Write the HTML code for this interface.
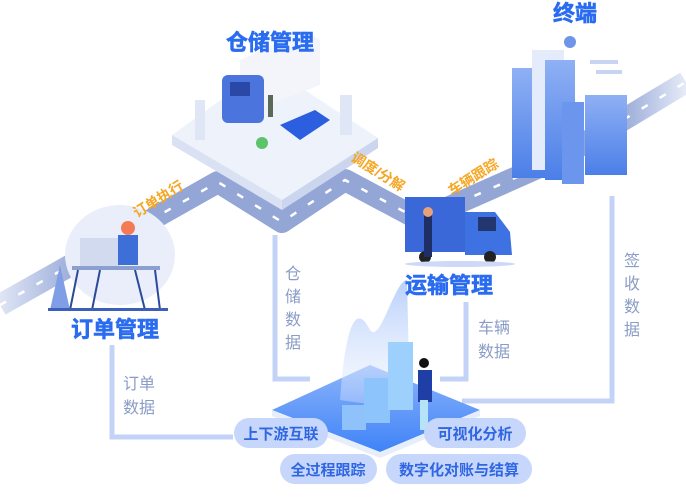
<!DOCTYPE html>
<html><head><meta charset="utf-8"><style>
html,body{margin:0;padding:0;background:#fff;}
svg{display:block;font-family:"Liberation Sans","Noto Sans CJK SC",sans-serif;}
</style></head><body>
<svg width="686" height="503" viewBox="0 0 686 503" xmlns="http://www.w3.org/2000/svg">
<defs>
<linearGradient id="rd" x1="0" x2="1" y1="0" y2="0"><stop offset="0" stop-color="#dfe5f5"/><stop offset="0.12" stop-color="#93a6d6"/><stop offset="0.9" stop-color="#93a6d6"/><stop offset="1" stop-color="#e6ebf8"/></linearGradient>
<linearGradient id="plat" x1="0" x2="0" y1="0" y2="1"><stop offset="0" stop-color="#8db4fb"/><stop offset="1" stop-color="#3f83f7"/></linearGradient>
<linearGradient id="bld" x1="0" x2="0" y1="0" y2="1"><stop offset="0" stop-color="#8fb0f4"/><stop offset="1" stop-color="#4b7fe8"/></linearGradient>
<linearGradient id="wave" x1="0" x2="0" y1="0" y2="1"><stop offset="0" stop-color="#b9d0fb"/><stop offset="1" stop-color="#e8f0fe" stop-opacity="0.3"/></linearGradient>
</defs>

<!-- road -->
<path d="M0 305 L218 182 L282 222 L345 180 L420 220 L560 158 L686 82" fill="none" stroke="url(#rd)" stroke-width="22" stroke-linejoin="round"/>
<path d="M0 305 L218 182 L282 222 L345 180 L420 220 L560 158 L686 82" fill="none" stroke="#fff" stroke-width="2.5" stroke-dasharray="7 14"/>

<!-- warehouse platform -->
<polygon points="268,66 378,138 282,200 172,135" fill="#eef2fb"/>
<polygon points="172,135 282,200 282,210 172,145" fill="#d9e1f3"/>
<polygon points="282,200 378,138 378,148 282,210" fill="#cbd5ee"/>
<polygon points="240,60 305,30 320,40 320,85 255,110 240,100" fill="#f3f5fb"/>
<rect x="222" y="75" width="42" height="48" rx="6" fill="#4b74dc"/>
<rect x="230" y="82" width="20" height="14" fill="#2a48a8"/>
<polygon points="280,125 315,110 330,120 300,140" fill="#2b5fe0"/>
<circle cx="262" cy="143" r="6" fill="#5cc36a"/>
<rect x="268" y="95" width="5" height="22" fill="#5a6a58"/>
<rect x="195" y="100" width="10" height="40" fill="#dfe6f6"/>
<rect x="340" y="95" width="12" height="40" fill="#dfe6f6"/>

<!-- terminal buildings -->
<rect x="512" y="68" width="42" height="110" fill="url(#bld)"/>
<rect x="532" y="50" width="32" height="120" fill="#e4ebfa"/>
<rect x="545" y="60" width="30" height="120" fill="url(#bld)"/>
<rect x="562" y="102" width="22" height="82" fill="#6c96ee"/>
<rect x="585" y="95" width="42" height="80" fill="url(#bld)"/>
<circle cx="570" cy="42" r="6" fill="#6e95e8"/>
<rect x="590" y="60" width="28" height="4" fill="#c7d4f2"/>
<rect x="596" y="70" width="26" height="4" fill="#c7d4f2"/>

<!-- truck -->
<rect x="405" y="197" width="60" height="55" fill="#3a68d8"/>
<path d="M465 212 L495 212 L510 232 L512 255 L465 255 Z" fill="#3e71e2"/>
<rect x="478" y="217" width="18" height="14" fill="#22366f"/>
<circle cx="425" cy="257" r="6" fill="#222"/><circle cx="490" cy="257" r="6" fill="#222"/>
<ellipse cx="460" cy="264" rx="55" ry="3" fill="#cdd9f6"/>
<rect x="424" y="212" width="8" height="45" fill="#1d2f66"/>
<circle cx="428" cy="212" r="5" fill="#e8a27a"/>

<!-- order desk -->
<ellipse cx="120" cy="255" rx="55" ry="50" fill="#e9eefa"/>
<rect x="80" y="238" width="40" height="30" fill="#d2daef"/>
<rect x="72" y="266" width="88" height="4" fill="#8ca0cf"/>
<path d="M78 270 L70 310 M100 270 L92 310 M135 270 L145 310 M155 270 L160 310" stroke="#2b4b9a" stroke-width="2"/>
<rect x="118" y="235" width="20" height="30" fill="#3e6fd8"/>
<circle cx="128" cy="228" r="7" fill="#f47b55"/>
<path d="M50 310 L60 265 L70 310 Z" fill="#7f9ee6"/>
<rect x="48" y="308" width="120" height="3" fill="#3c5fb7"/>

<!-- connectors -->
<g fill="none" stroke="#c3d3f7" stroke-width="5">
<path d="M112 345 V437 H233"/>
<path d="M275 235 V379 H310"/>
<path d="M466 302 V379 H440"/>
<path d="M612 196 V401 H462"/>
</g>

<!-- central platform -->
<polygon points="370,365 480,410 380,452 272,410" fill="url(#plat)"/>
<polygon points="272,410 380,452 480,410 480,416 380,458 272,416" fill="#e7eefb"/>
<path d="M340 400 C345 330 355 300 370 330 C380 345 395 280 407 280 L410 410 Z" fill="url(#wave)"/>
<rect x="342" y="405" width="24" height="25" fill="#8fc2fb"/>
<rect x="364" y="378" width="26" height="45" fill="#8cc4fb"/>
<rect x="388" y="342" width="25" height="68" fill="#9dd0fc"/>
<rect x="418" y="370" width="14" height="32" fill="#1f3fa6"/>
<circle cx="424" cy="363" r="5" fill="#111"/>
<rect x="420" y="400" width="8" height="30" fill="#b7e3f7"/>

<!-- pills -->
<g fill="#c7d7fb">
<rect x="234" y="418" width="94" height="30" rx="15"/>
<rect x="424" y="418" width="102" height="30" rx="15"/>
<rect x="280" y="454" width="97" height="30" rx="15"/>
<rect x="386" y="454" width="146" height="30" rx="15"/>
</g>
<g fill="#2f66e2" font-size="15" font-weight="bold" text-anchor="middle">
<text x="281" y="439">上下游互联</text>
<text x="475" y="439">可视化分析</text>
<text x="328" y="475">全过程跟踪</text>
<text x="459" y="475">数字化对账与结算</text>
</g>

<!-- titles -->
<g fill="#2a6cf0" font-size="22" font-weight="bold" text-anchor="middle" stroke="#2a6cf0" stroke-width="0.6">
<text x="270" y="50">仓储管理</text>
<text x="575" y="21">终端</text>
<text x="449" y="293">运输管理</text>
<text x="115" y="337">订单管理</text>
</g>

<!-- road labels -->
<g fill="#f5a623" font-size="14" font-weight="bold">
<text transform="translate(137,218) rotate(-32)">订单执行</text>
<text transform="translate(350,160) rotate(32)">调度/分解</text>
<text transform="translate(452,196) rotate(-32)">车辆跟踪</text>
</g>

<!-- data labels -->
<g fill="#8a9cc6" font-size="16">
<text x="285" y="279">仓</text><text x="285" y="302">储</text><text x="285" y="325">数</text><text x="285" y="348">据</text>
<text x="478" y="333">车辆</text><text x="478" y="357">数据</text>
<text x="624" y="266">签</text><text x="624" y="289">收</text><text x="624" y="312">数</text><text x="624" y="335">据</text>
<text x="123" y="389">订单</text><text x="123" y="413">数据</text>
</g>
</svg>
</body></html>
